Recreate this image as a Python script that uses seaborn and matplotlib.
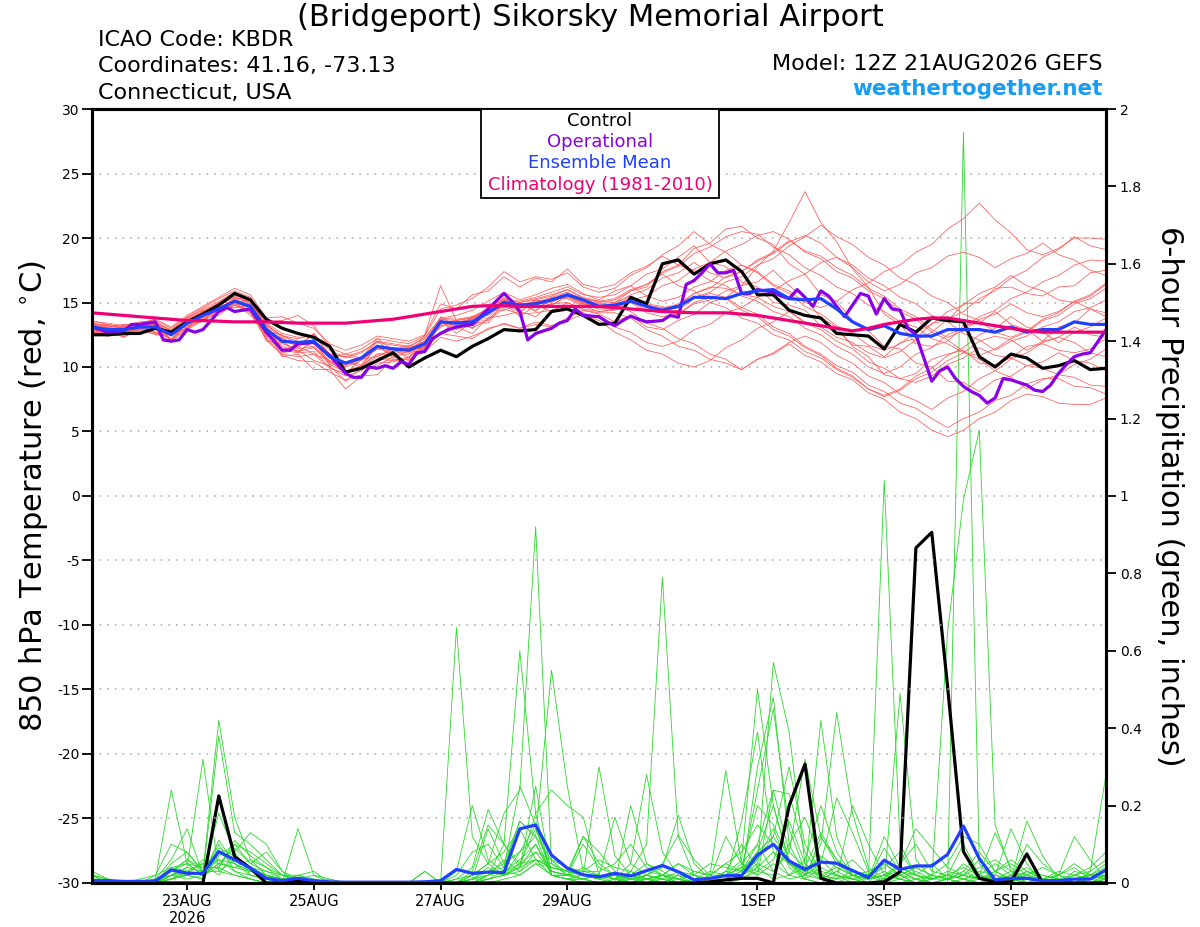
import pandas as pd
import matplotlib
matplotlib.use("Agg")
import matplotlib.pyplot as plt
import seaborn as sns
from matplotlib.patches import Rectangle

# --- run info ---
run_start = "2026-08-21 12:00"
tick_dates = ["2026-08-23", "2026-08-25", "2026-08-27", "2026-08-29",
              "2026-09-01", "2026-09-03", "2026-09-05"]
tick_labels = ["23AUG\n2026", "25AUG", "27AUG", "29AUG", "1SEP", "3SEP", "5SEP"]
temp_ticks = [-30, -25, -20, -15, -10, -5, 0, 5, 10, 15, 20, 25, 30]
precip_ticks = [0, 0.2, 0.4, 0.6, 0.8, 1, 1.2, 1.4, 1.6, 1.8, 2]
precip_tick_labels = ["0", "0.2", "0.4", "0.6", "0.8", "1", "1.2", "1.4", "1.6", "1.8", "2"]

# --- 850 hPa temperature (6-hourly, C) ---
control_temp = [12.5, 12.5, 12.6, 12.6, 13.0, 12.7, 13.5, 14.1, 14.8, 15.7,
                15.2, 13.7, 13.0, 12.6, 12.3, 11.6, 9.6, 9.9, 10.5, 11.1,
                10.0, 10.7, 11.3, 10.8, 11.6, 12.2, 12.9, 12.8, 12.9, 14.3,
                14.5, 14.0, 13.3, 13.4, 15.4, 14.9, 18.0, 18.3, 17.2, 18.0,
                18.3, 17.4, 15.6, 15.6, 14.4, 14.0, 13.8, 12.6, 12.5, 12.4,
                11.4, 13.3, 12.7, 13.8, 13.6, 13.5, 10.8, 10.0, 11.0, 10.7,
                9.9, 10.1, 10.5, 9.8, 9.9]
mean_temp = [13.1, 12.9, 12.9, 13.1, 13.1, 12.5, 13.4, 14.0, 14.5, 15.1,
             14.7, 12.9, 12.0, 11.9, 12.0, 10.8, 10.3, 10.7, 11.6, 11.4,
             11.3, 11.8, 13.5, 13.4, 13.5, 14.2, 15.0, 14.8, 14.9, 15.2,
             15.6, 15.2, 14.7, 14.8, 15.1, 14.7, 14.4, 14.7, 15.4, 15.4,
             15.3, 15.7, 15.9, 16.0, 15.3, 15.2, 15.3, 14.5, 13.5, 12.9,
             13.2, 12.6, 12.4, 12.4, 12.9, 12.9, 12.9, 12.7, 13.1, 12.7,
             12.9, 12.9, 13.5, 13.3, 13.3]
clim_temp = [14.2, 14.1, 14.0, 13.9, 13.8, 13.7, 13.6, 13.6, 13.55, 13.5,
             13.5, 13.5, 13.45, 13.4, 13.4, 13.4, 13.4, 13.5, 13.6, 13.7,
             13.9, 14.1, 14.3, 14.5, 14.7, 14.75, 14.75, 14.7, 14.7, 14.7,
             14.7, 14.7, 14.7, 14.6, 14.5, 14.4, 14.3, 14.25, 14.2, 14.2,
             14.2, 14.1, 14.0, 13.8, 13.6, 13.4, 13.2, 13.0, 12.8, 13.0,
             13.3, 13.5, 13.7, 13.8, 13.8, 13.6, 13.4, 13.2, 13.0, 12.8,
             12.7, 12.7, 12.7, 12.7, 12.7]
# operational run is 3-hourly
oper_temp = [13.1, 12.9, 12.7, 12.75, 12.8, 13.3, 13.3, 13.4, 13.5, 12.1,
             12.0, 12.1, 12.9, 12.7, 12.9, 13.6, 14.3, 14.6, 14.3, 14.4,
             14.5, 13.6, 12.7, 12.0, 11.3, 11.3, 11.8, 11.85, 11.9, 11.4,
             10.9, 10.2, 9.5, 9.2, 9.2, 10.0, 9.9, 10.1, 9.9, 10.4,
             10.2, 11.1, 11.2, 12.2, 12.6, 12.9, 13.1, 13.2, 13.3, 13.9,
             14.5, 15.1, 15.7, 15.1, 14.3, 12.1, 12.6, 12.8, 13.0, 13.4,
             13.6, 14.5, 14.0, 13.95, 13.9, 13.5, 13.2, 13.6, 13.95, 13.7,
             13.5, 13.55, 13.6, 14.0, 13.85, 16.4, 16.7, 17.3, 18.0, 17.3,
             17.3, 17.5, 15.7, 15.7, 16.0, 15.9, 15.8, 15.5, 15.3, 16.0,
             15.4, 14.7, 15.9, 15.5, 14.7, 13.9, 14.8, 15.7, 15.5, 14.1,
             15.3, 14.5, 14.4, 13.0, 12.5, 10.7, 8.9, 9.7, 10.0, 9.1,
             8.5, 8.1, 7.8, 7.2, 7.6, 9.1, 9.0, 8.8, 8.6, 8.2,
             8.1, 8.6, 9.5, 10.2, 10.8, 11.0, 11.1, 12.0, 12.9]

# ensemble members temperature
t01 = [13.4, 13.2, 13.0, 13.3, 13.5, 12.8, 13.7, 14.3, 14.9, 15.5, 15.0, 13.2, 12.4, 12.0, 11.5, 10.2, 9.6, 10.1, 11.0, 11.2,
       11.6, 12.3, 13.8, 14.0, 14.4, 15.1, 15.8, 15.2, 15.6, 16.1, 16.4, 15.7, 15.2, 15.9, 16.3, 17.2, 17.6, 18.5, 19.4, 18.1,
       17.8, 16.6, 16.2, 15.0, 14.8, 14.4, 13.2, 12.9, 11.7, 11.6, 10.8, 11.9, 12.2, 13.4, 13.6, 14.9, 15.0, 16.1, 16.2, 15.7,
       15.5, 16.2, 16.3, 17.3, 17.5]
t02 = [13.0, 12.4, 12.9, 12.6, 13.2, 12.0, 13.4, 13.5, 14.7, 14.6, 14.9, 12.0, 11.9, 11.1, 12.2, 10.1, 10.4, 10.0, 11.7, 10.7,
       11.3, 11.1, 13.6, 12.6, 13.5, 13.4, 15.0, 13.9, 14.8, 14.3, 15.0, 14.4, 14.1, 13.5, 14.0, 13.1, 12.9, 13.6, 14.1, 15.0,
       15.4, 16.3, 16.6, 17.5, 16.3, 15.4, 13.8, 13.1, 11.6, 10.8, 9.4, 9.1, 9.5, 10.6, 11.0, 11.3, 10.3, 10.2, 10.7, 11.6,
       11.8, 11.3, 11.1, 11.4, 12.2]
t03 = [12.8, 12.6, 12.9, 13.2, 13.0, 12.6, 13.5, 14.2, 14.8, 15.4, 14.9, 13.4, 12.6, 12.3, 12.4, 11.0, 10.8, 11.2, 11.9, 11.7,
       11.5, 12.0, 13.6, 13.3, 13.8, 14.6, 15.3, 15.0, 15.3, 15.6, 16.0, 15.3, 15.1, 15.0, 15.9, 16.2, 17.4, 17.9, 19.2, 19.6,
       20.7, 20.9, 20.0, 19.5, 18.0, 17.2, 15.6, 15.1, 13.6, 12.8, 11.6, 11.4, 10.3, 10.0, 8.9, 8.8, 8.1, 9.0, 9.3, 10.1,
       10.4, 11.1, 10.5, 10.3, 9.7]
t04 = [13.3, 13.0, 13.1, 13.0, 13.2, 12.7, 13.2, 13.9, 14.6, 15.2, 14.8, 12.9, 11.8, 11.4, 11.6, 10.5, 10.0, 10.5, 11.4, 11.5,
       11.2, 11.7, 13.3, 13.6, 13.9, 14.4, 15.1, 14.9, 15.0, 15.4, 15.8, 15.2, 14.9, 15.0, 15.5, 14.9, 14.7, 14.1, 14.9, 15.2,
       15.9, 16.3, 17.8, 19.0, 21.2, 23.6, 21.2, 19.7, 17.6, 16.2, 14.1, 13.3, 11.8, 11.6, 12.0, 13.2, 13.4, 14.3, 13.3, 12.9,
       12.0, 13.1, 13.4, 14.5, 13.9]
t05 = [12.6, 13.1, 12.3, 13.1, 12.7, 12.6, 13.0, 14.3, 14.2, 15.3, 14.2, 12.9, 10.8, 11.0, 9.8, 9.8, 8.3, 9.3, 9.4, 10.6,
       10.2, 11.7, 12.6, 13.6, 13.0, 14.4, 14.4, 14.9, 14.3, 15.4, 15.3, 14.7, 14.3, 14.4, 15.0, 14.2, 13.9, 14.1, 15.0, 15.4,
       15.3, 14.4, 13.9, 12.9, 12.4, 11.5, 10.9, 9.9, 9.3, 8.3, 7.7, 8.2, 9.1, 9.6, 10.5, 11.1, 12.0, 12.4, 12.1, 11.3,
       12.0, 12.3, 13.1, 12.5, 12.3]
t06 = [13.5, 13.4, 13.2, 13.5, 13.6, 13.0, 13.9, 14.6, 15.3, 15.9, 15.4, 13.5, 13.6, 14.0, 13.2, 11.5, 11.0, 11.4, 12.2, 12.0,
       11.8, 12.4, 14.5, 14.8, 15.3, 16.2, 17.4, 16.6, 17.0, 16.8, 17.3, 16.2, 15.8, 16.1, 17.1, 17.7, 18.7, 19.4, 20.5, 19.5,
       18.9, 17.9, 17.4, 16.4, 15.9, 15.0, 14.6, 15.1, 16.0, 16.5, 17.4, 17.9, 18.9, 19.5, 20.7, 21.5, 22.7, 21.4, 20.4, 19.1,
       18.7, 19.2, 20.0, 20.0, 19.9]
t07 = [12.6, 12.5, 12.4, 12.7, 12.6, 12.0, 12.9, 13.6, 14.2, 14.8, 14.3, 12.2, 11.0, 10.8, 11.0, 9.9, 9.5, 10.0, 10.8, 10.6,
       10.6, 11.2, 12.3, 12.0, 12.4, 12.9, 13.4, 13.0, 13.3, 13.1, 13.6, 14.1, 13.6, 12.7, 12.1, 11.3, 11.0, 10.3, 10.0, 10.5,
       11.5, 12.1, 13.0, 13.5, 14.3, 13.4, 12.9, 12.0, 11.4, 10.4, 9.9, 9.1, 8.8, 9.3, 10.2, 10.7, 11.5, 10.9, 10.7, 10.1,
       9.9, 9.4, 9.2, 8.6, 8.5]
t08 = [13.2, 13.1, 12.8, 13.1, 13.3, 12.6, 13.6, 14.3, 15.0, 15.7, 15.2, 13.0, 12.1, 11.9, 12.1, 10.9, 10.4, 10.8, 11.6, 11.5,
       11.4, 11.9, 13.5, 13.5, 13.7, 14.3, 15.0, 14.8, 15.0, 15.3, 15.7, 15.3, 15.0, 15.2, 15.9, 16.4, 17.3, 17.8, 18.8, 19.3,
       20.1, 20.5, 20.3, 19.3, 18.7, 17.7, 17.1, 16.2, 15.7, 14.8, 14.3, 13.5, 13.1, 12.2, 11.8, 11.1, 10.9, 11.4, 12.2, 12.7,
       13.6, 14.0, 14.9, 15.3, 16.1]
t09 = [13.3, 12.6, 13.3, 13.1, 13.5, 12.1, 13.5, 13.6, 14.6, 14.6, 14.8, 12.4, 12.3, 11.5, 12.6, 10.8, 11.0, 10.7, 12.2, 11.3,
       11.7, 11.3, 13.5, 12.9, 13.7, 13.6, 15.0, 14.2, 15.2, 14.8, 15.5, 14.9, 14.7, 14.8, 15.4, 14.8, 14.6, 14.8, 15.7, 16.1,
       17.0, 17.4, 18.2, 18.8, 19.7, 20.2, 19.6, 18.5, 17.7, 16.6, 15.9, 16.4, 17.3, 17.7, 18.6, 18.9, 18.5, 17.7, 18.4, 18.8,
       19.6, 18.7, 18.3, 17.5, 17.1]
t10 = [12.7, 12.6, 12.7, 12.9, 12.9, 12.1, 13.0, 13.7, 14.3, 14.9, 14.4, 12.3, 11.3, 11.1, 11.2, 10.0, 9.3, 9.7, 10.6, 10.5,
       10.8, 11.5, 12.6, 12.4, 12.2, 13.0, 13.3, 13.0, 13.5, 13.2, 13.8, 14.4, 14.2, 14.2, 13.8, 12.9, 12.4, 11.6, 11.3, 10.6,
       10.3, 9.8, 10.6, 11.1, 11.9, 12.4, 11.9, 10.9, 10.3, 9.3, 8.8, 7.9, 7.4, 6.7, 7.6, 8.1, 9.1, 9.7, 10.6, 11.1,
       11.9, 12.3, 11.9, 11.1, 10.8]
t11 = [13.4, 13.1, 13.3, 13.2, 13.4, 12.9, 13.8, 14.4, 14.9, 15.6, 15.1, 13.3, 12.4, 12.2, 12.5, 11.3, 10.7, 11.1, 12.0, 11.8,
       11.6, 12.2, 13.8, 13.7, 13.9, 14.5, 15.2, 15.1, 15.4, 15.8, 16.2, 15.6, 15.4, 15.6, 16.3, 15.5, 15.1, 15.4, 16.2, 16.6,
       17.5, 17.9, 17.3, 16.3, 15.7, 14.7, 14.1, 13.2, 12.6, 11.7, 11.3, 11.8, 12.7, 13.3, 14.3, 14.8, 15.7, 16.2, 17.1, 16.3,
       15.9, 15.2, 15.0, 15.5, 16.4]
t12 = [12.6, 13.0, 12.5, 13.3, 12.6, 12.8, 13.1, 14.4, 14.3, 15.4, 14.4, 13.1, 11.4, 11.6, 11.0, 10.5, 9.5, 10.6, 10.8, 11.4,
       10.7, 11.9, 13.1, 13.6, 13.0, 14.4, 14.6, 14.9, 14.4, 15.3, 15.4, 14.8, 14.5, 14.5, 15.1, 14.4, 14.2, 14.4, 15.3, 15.7,
       15.4, 14.6, 14.1, 13.1, 12.6, 11.6, 11.0, 10.1, 9.6, 8.6, 8.1, 7.2, 6.8, 6.0, 5.3, 6.0, 6.5, 7.4, 7.8, 8.7,
       9.1, 9.1, 8.5, 8.4, 7.9]
t13 = [13.6, 13.3, 13.1, 13.4, 13.7, 13.1, 14.0, 14.7, 15.4, 16.1, 15.6, 13.8, 13.9, 13.4, 13.0, 11.8, 11.3, 11.7, 12.4, 12.2,
       12.0, 12.5, 14.9, 14.5, 15.6, 15.9, 17.0, 16.2, 16.9, 16.6, 17.6, 16.4, 16.1, 16.4, 17.3, 17.8, 18.6, 17.9, 17.5, 16.7,
       16.3, 15.5, 15.1, 14.3, 13.9, 13.0, 12.5, 11.6, 11.0, 10.0, 9.5, 10.0, 11.0, 11.5, 12.5, 13.0, 13.9, 14.4, 15.3, 15.8,
       16.6, 17.1, 17.9, 18.3, 18.2]
t14 = [12.5, 12.4, 12.5, 12.8, 12.7, 12.2, 13.1, 13.8, 14.4, 14.8, 14.2, 12.1, 10.9, 10.5, 10.4, 9.6, 9.0, 9.4, 10.3, 10.4,
       10.7, 12.5, 16.3, 13.6, 13.0, 13.7, 14.5, 14.1, 14.2, 14.4, 14.8, 14.2, 13.8, 13.1, 12.7, 11.9, 11.6, 12.0, 12.9, 13.3,
       14.2, 14.6, 15.4, 15.9, 16.7, 17.2, 18.1, 18.5, 17.9, 16.9, 16.3, 15.4, 14.9, 14.0, 13.5, 12.6, 12.1, 11.3, 12.0, 12.4,
       13.1, 13.5, 14.3, 14.6, 15.2]
t15 = [13.4, 12.7, 13.2, 12.9, 13.5, 12.4, 13.8, 13.8, 15.0, 15.0, 15.2, 12.8, 12.5, 11.7, 12.6, 10.9, 10.8, 10.6, 12.0, 11.1,
       11.5, 11.5, 13.9, 13.1, 13.9, 14.0, 15.4, 14.5, 15.2, 15.0, 15.6, 15.1, 14.8, 14.9, 15.6, 16.0, 16.9, 17.3, 18.1, 17.3,
       16.9, 17.4, 18.3, 18.9, 19.8, 19.0, 18.6, 17.7, 17.1, 16.1, 15.5, 14.5, 13.9, 12.9, 12.3, 12.8, 13.7, 14.1, 14.9, 14.2,
       13.9, 14.3, 15.1, 14.5, 14.2]
t16 = [12.8, 12.9, 12.7, 13.0, 13.1, 12.4, 13.3, 14.0, 14.6, 15.2, 14.8, 12.8, 11.6, 11.2, 11.5, 10.4, 9.7, 10.1, 11.0, 10.9,
       11.0, 11.6, 13.2, 13.5, 13.6, 14.2, 14.9, 14.6, 14.9, 15.2, 15.6, 15.0, 14.7, 14.8, 14.3, 13.4, 13.0, 12.2, 11.8, 11.0,
       10.6, 9.8, 10.6, 11.0, 11.8, 10.9, 10.4, 9.5, 9.0, 8.0, 7.5, 6.5, 6.0, 5.1, 4.6, 5.1, 6.0, 6.5, 7.4, 7.9,
       7.7, 7.2, 7.1, 7.1, 7.6]
t17 = [13.2, 13.3, 13.0, 13.2, 13.4, 12.8, 13.8, 14.5, 15.1, 15.8, 15.3, 13.3, 12.2, 11.8, 12.0, 10.8, 10.2, 10.6, 11.5, 11.4,
       11.4, 12.0, 13.7, 13.6, 13.8, 14.4, 15.2, 15.0, 15.2, 15.5, 16.0, 15.4, 15.1, 15.3, 16.0, 16.4, 17.2, 16.3, 15.9, 15.0,
       14.6, 13.8, 13.4, 12.5, 12.1, 11.2, 10.7, 9.8, 9.2, 8.3, 7.8, 8.3, 9.3, 9.9, 10.9, 11.5, 12.5, 13.0, 13.9, 13.1,
       12.7, 11.9, 12.7, 13.1, 13.8]
t18 = [12.4, 12.8, 12.3, 13.0, 12.5, 12.6, 12.9, 14.1, 14.0, 15.0, 14.0, 12.7, 11.1, 11.3, 10.5, 10.1, 8.9, 9.9, 10.1, 10.8,
       10.5, 11.7, 12.7, 13.1, 12.6, 13.8, 14.0, 14.3, 13.9, 14.9, 15.0, 14.5, 14.3, 14.5, 15.2, 15.5, 16.3, 16.7, 17.6, 18.1,
       19.0, 19.5, 20.2, 20.5, 19.9, 18.9, 18.4, 17.4, 16.9, 15.9, 15.3, 14.3, 13.7, 12.7, 12.1, 11.2, 10.6, 9.7, 9.2, 8.3,
       9.0, 9.4, 10.2, 10.6, 11.4]
t19 = [13.3, 13.2, 13.1, 13.3, 13.3, 12.7, 13.6, 14.2, 14.8, 15.4, 15.0, 13.1, 12.0, 11.7, 11.9, 10.7, 10.1, 10.6, 11.4, 11.2,
       11.1, 11.8, 13.5, 13.2, 13.5, 14.2, 15.0, 14.7, 14.9, 15.1, 15.5, 15.0, 14.6, 14.6, 15.3, 14.6, 14.4, 14.6, 15.4, 15.8,
       16.6, 17.0, 17.9, 18.4, 19.4, 20.1, 21.0, 20.1, 19.5, 18.5, 17.9, 16.9, 16.4, 15.5, 15.0, 14.1, 13.6, 12.7, 12.3, 12.8,
       13.7, 14.2, 15.1, 15.6, 16.5]
t20 = [13.2, 12.5, 13.1, 12.8, 13.3, 12.1, 13.6, 13.6, 14.8, 14.8, 14.9, 12.4, 12.0, 11.2, 12.0, 10.3, 10.4, 10.2, 11.6, 10.9,
       11.5, 11.4, 13.7, 13.0, 13.8, 13.8, 15.2, 14.3, 15.1, 14.8, 15.5, 14.9, 14.6, 14.7, 15.3, 14.7, 14.5, 14.9, 15.7, 16.2,
       16.1, 15.6, 15.4, 14.7, 14.3, 13.5, 13.1, 12.3, 11.9, 11.1, 10.7, 11.2, 12.1, 12.7, 13.7, 14.3, 15.3, 15.9, 16.9, 17.5,
       18.5, 19.1, 20.1, 19.4, 19.1]

# --- 6-hour precipitation (inches) ---
control_precip = [0, 0, 0, 0, 0, 0, 0, 0, 0.225, 0.068, 0.038, 0, 0,
                  0.005, 0, 0, 0, 0, 0, 0, 0, 0, 0, 0, 0, 0,
                  0, 0, 0, 0, 0, 0, 0, 0, 0, 0, 0, 0, 0,
                  0.003, 0.008, 0.012, 0.012, 0, 0.2, 0.307, 0.012, 0, 0, 0, 0.003, 0.029,
                  0.866, 0.906, 0.507, 0.081, 0.012, 0.003, 0.003, 0.075, 0, 0, 0, 0, 0]
mean_precip = [0.006, 0.006, 0.004, 0.004, 0.005, 0.034, 0.025, 0.025, 0.081, 0.06, 0.038, 0.012, 0.006,
               0.012, 0.006, 0.003, 0.002, 0.002, 0.002, 0.002, 0.002, 0.003, 0.006, 0.035, 0.025, 0.028,
               0.027, 0.14, 0.15, 0.072, 0.038, 0.021, 0.016, 0.025, 0.018, 0.032, 0.045, 0.029, 0.008,
               0.012, 0.019, 0.019, 0.072, 0.1, 0.057, 0.035, 0.054, 0.051, 0.032, 0.014, 0.059, 0.035,
               0.044, 0.044, 0.074, 0.147, 0.063, 0.008, 0.012, 0.012, 0.006, 0.006, 0.01, 0.01, 0.034]

p01 = [0, 0, 0, 0, 0.01, 0.24, 0.05, 0.02, 0.10, 0.03, 0.01, 0, 0, 0, 0, 0, 0, 0, 0, 0, 0, 0, 0, 0.66, 0.12, 0.05,
       0.02, 0.04, 0.25, 0.02, 0.01, 0, 0, 0, 0.03, 0.10, 0.79, 0.12, 0.02, 0, 0.01, 0.03, 0.08, 0.20, 0.06, 0.01, 0, 0.02, 0, 0, 0.05, 0.02,
       0, 0, 0, 1.94, 0.05, 0, 0, 0.03, 0.01, 0, 0, 0, 0.02]
p02 = [0.03, 0.01, 0, 0, 0, 0.02, 0.04, 0.32, 0.03, 0.02, 0.01, 0, 0, 0, 0, 0, 0, 0, 0, 0, 0, 0, 0, 0.01, 0.04, 0.19,
       0.10, 0.60, 0.18, 0.02, 0.01, 0, 0, 0, 0.20, 0.05, 0.02, 0, 0, 0, 0.02, 0.06, 0.50, 0.20, 0.05, 0.01, 0, 0, 0.02, 0.01, 1.04, 0.10,
       0.02, 0, 0.01, 0.05, 0.02, 0, 0.01, 0, 0, 0, 0.02, 0.01, 0]
p03 = [0.01, 0, 0, 0, 0.02, 0.10, 0.08, 0.03, 0.42, 0.17, 0.06, 0.02, 0, 0.14, 0.02, 0, 0, 0, 0, 0, 0, 0, 0, 0, 0.02, 0.05,
       0.18, 0.24, 0.92, 0.05, 0.02, 0.01, 0, 0.01, 0.03, 0.01, 0, 0.02, 0.01, 0, 0, 0.01, 0.04, 0.57, 0.39, 0.05, 0.01, 0.03, 0.01, 0, 0, 0.49,
       0.06, 0.01, 0.02, 0.10, 0.02, 0.13, 0.04, 0, 0, 0.01, 0, 0, 0]
p04 = [0, 0, 0, 0, 0.01, 0.06, 0.14, 0.02, 0.38, 0.13, 0.10, 0.06, 0.02, 0.02, 0.01, 0, 0, 0, 0, 0, 0, 0.03, 0, 0, 0.01, 0.14,
       0.05, 0.16, 0.12, 0.55, 0.25, 0.03, 0.02, 0.01, 0, 0.01, 0.02, 0, 0.03, 0.02, 0.29, 0.05, 0.10, 0.03, 0.01, 0.02, 0.42, 0.12, 0.02, 0, 0, 0.02,
       0, 0.01, 0.65, 0.99, 1.17, 0.15, 0.03, 0, 0, 0, 0.01, 0.02, 0.04]
p05 = [0.02, 0, 0, 0, 0, 0.05, 0.08, 0.03, 0.18, 0.08, 0.13, 0.10, 0.03, 0, 0, 0, 0, 0, 0, 0, 0, 0, 0, 0.03, 0.20, 0.06,
       0.03, 0.04, 0.18, 0.24, 0.20, 0.17, 0.02, 0.01, 0.01, 0.02, 0.04, 0.175, 0.05, 0.01, 0.02, 0.01, 0.30, 0.48, 0.10, 0.02, 0.05, 0.22, 0.13, 0.03, 0, 0,
       0.01, 0, 0, 0.01, 0.03, 0.02, 0.14, 0.05, 0, 0.02, 0.12, 0.06, 0.01]
p06 = [0, 0, 0, 0.01, 0.02, 0.04, 0.05, 0.02, 0.11, 0.05, 0.03, 0.02, 0.01, 0.02, 0.03, 0, 0, 0, 0, 0, 0, 0, 0, 0, 0, 0.02,
       0.10, 0.04, 0.06, 0.02, 0.01, 0.01, 0.02, 0.17, 0.05, 0.28, 0.08, 0.02, 0, 0, 0.01, 0.05, 0.02, 0.24, 0.23, 0.08, 0.02, 0.01, 0.20, 0.10, 0.02, 0.01,
       0, 0.02, 0.01, 0.02, 0.06, 0, 0.01, 0.16, 0.07, 0.01, 0, 0.03, 0.28]
p07 = [0, 0, 0, 0, 0, 0.03, 0.02, 0.01, 0.08, 0.06, 0.04, 0.03, 0.02, 0.01, 0, 0, 0, 0, 0, 0, 0, 0, 0, 0.01, 0.02, 0.03,
       0.04, 0.25, 0.15, 0.03, 0.02, 0.01, 0, 0, 0.01, 0.02, 0.05, 0.124, 0.06, 0.02, 0.05, 0.08, 0.15, 0.10, 0.05, 0.03, 0.02, 0.04, 0.02, 0.01, 0.09, 0.03,
       0.01, 0, 0, 0, 0.02, 0.05, 0.02, 0, 0.01, 0, 0.03, 0.02, 0.05]
p08 = [0.01, 0, 0, 0, 0.01, 0.02, 0.03, 0.05, 0.06, 0.05, 0.02, 0.01, 0, 0.01, 0, 0, 0, 0, 0, 0, 0, 0.03, 0, 0, 0.01, 0.04,
       0.02, 0.04, 0.10, 0.03, 0.02, 0.02, 0.30, 0.07, 0.02, 0, 0.01, 0.03, 0.02, 0.01, 0, 0.02, 0.06, 0.12, 0.05, 0.02, 0.10, 0.44, 0.18, 0.04, 0.01, 0.02,
       0.04, 0.02, 0.01, 0, 0, 0.01, 0.03, 0.02, 0, 0, 0.01, 0.01, 0.02]
p09 = [0.02, 0.01, 0, 0, 0.01, 0.03, 0.06, 0.04, 0.04, 0.11, 0.07, 0.04, 0.02, 0, 0, 0, 0, 0, 0, 0, 0, 0, 0, 0, 0.01, 0.02,
       0.03, 0.02, 0.05, 0.02, 0.01, 0.01, 0.02, 0.01, 0.05, 0.02, 0.01, 0, 0.01, 0.03, 0.02, 0.04, 0.02, 0.05, 0.02, 0.01, 0.12, 0.06, 0.03, 0.02, 0.04, 0.08,
       0.02, 0.05, 0.01, 0.03, 0.01, 0.02, 0.01, 0, 0.02, 0.01, 0, 0.02, 0.01]
p10 = [0, 0, 0, 0, 0, 0.01, 0.02, 0.06, 0.05, 0.09, 0.05, 0.08, 0.03, 0.01, 0.02, 0.01, 0, 0, 0, 0, 0, 0, 0, 0, 0.03, 0.15,
       0.10, 0.05, 0.06, 0.05, 0.03, 0.02, 0.01, 0.02, 0, 0.01, 0, 0, 0.01, 0.01, 0.03, 0.10, 0.04, 0.01, 0.02, 0.06, 0.20, 0.08, 0.02, 0.01, 0.02, 0.05,
       0.10, 0.03, 0.02, 0.01, 0, 0, 0.02, 0.04, 0.01, 0, 0, 0.01, 0.01]
p11 = [0, 0, 0, 0, 0.01, 0.01, 0.03, 0.02, 0.05, 0.04, 0.03, 0.02, 0.01, 0, 0, 0, 0, 0, 0, 0, 0, 0, 0, 0, 0, 0.01,
       0.02, 0.03, 0.06, 0.04, 0.03, 0.02, 0.01, 0.02, 0.01, 0.01, 0.02, 0.01, 0, 0, 0.01, 0.16, 0.39, 0.08, 0.02, 0.04, 0.02, 0.01, 0.03, 0.02, 0, 0.01,
       0, 0, 0.01, 0.03, 0.08, 0.03, 0.01, 0.10, 0.05, 0.02, 0, 0, 0.01]
p12 = [0.01, 0, 0, 0, 0, 0.04, 0.03, 0.02, 0.09, 0.07, 0.04, 0.02, 0, 0, 0, 0, 0, 0, 0, 0, 0, 0, 0, 0, 0.02, 0.03,
       0.05, 0.08, 0.12, 0.06, 0.04, 0.03, 0.03, 0.05, 0.10, 0.04, 0.02, 0.01, 0, 0.02, 0.05, 0.03, 0.24, 0.45, 0.14, 0.03, 0.01, 0.03, 0.06, 0.02, 0.01, 0.05,
       0.14, 0.09, 0.04, 0.02, 0.01, 0.03, 0.05, 0.02, 0.01, 0, 0.02, 0.04, 0.08]
p13 = [0, 0, 0, 0, 0, 0.02, 0.03, 0.05, 0.02, 0.08, 0.02, 0.01, 0, 0.02, 0, 0, 0, 0, 0, 0, 0, 0, 0, 0.02, 0.08, 0.10,
       0.04, 0.16, 0.12, 0.02, 0.01, 0.02, 0.01, 0, 0.02, 0.05, 0.03, 0.01, 0, 0.01, 0.12, 0.05, 0.03, 0.02, 0.10, 0.17, 0.06, 0.02, 0.01, 0.01, 0.12, 0.04,
       0.02, 0.01, 0.03, 0.02, 0.01, 0, 0.01, 0.02, 0.01, 0.02, 0.05, 0.02, 0.01]
p14 = [0.02, 0, 0, 0, 0, 0.01, 0.02, 0.03, 0.06, 0.03, 0.02, 0.01, 0, 0, 0, 0, 0, 0, 0, 0, 0, 0, 0, 0, 0, 0.01,
       0.02, 0.05, 0.08, 0.06, 0.02, 0.01, 0.02, 0.01, 0.02, 0.01, 0.01, 0, 0, 0, 0, 0.02, 0.05, 0.03, 0.08, 0.32, 0.12, 0.05, 0.02, 0.01, 0.02, 0.03,
       0.01, 0.02, 0.05, 0.12, 0.10, 0.03, 0.01, 0, 0, 0.01, 0, 0.01, 0.02]
p15 = [0, 0, 0, 0, 0.01, 0.03, 0.05, 0.04, 0.04, 0.10, 0.05, 0.03, 0.01, 0, 0.01, 0, 0, 0, 0, 0, 0, 0, 0, 0, 0.01, 0.02,
       0.06, 0.03, 0.08, 0.03, 0.02, 0.10, 0.04, 0.02, 0.01, 0.03, 0.02, 0.01, 0.02, 0.05, 0.04, 0.03, 0.08, 0.12, 0.30, 0.10, 0.03, 0.02, 0.01, 0.02, 0.06, 0.03,
       0.02, 0.01, 0.02, 0.04, 0.02, 0.01, 0, 0.02, 0.04, 0.02, 0.01, 0, 0.01]
p16 = [0.01, 0.01, 0, 0, 0, 0.02, 0.01, 0.02, 0.04, 0.02, 0.01, 0, 0, 0, 0, 0, 0, 0, 0, 0, 0, 0, 0, 0, 0, 0,
       0.01, 0.02, 0.05, 0.04, 0.03, 0.12, 0.05, 0.02, 0.01, 0, 0.02, 0.05, 0.03, 0.02, 0.02, 0.04, 0.20, 0.15, 0.06, 0.02, 0.01, 0.05, 0.03, 0.01, 0.02, 0.01,
       0.03, 0.01, 0.02, 0.01, 0, 0.02, 0.01, 0.03, 0.02, 0.01, 0.02, 0.03, 0.06]
p17 = [0, 0, 0, 0, 0, 0.02, 0.02, 0.01, 0.07, 0.10, 0.08, 0.05, 0.02, 0.01, 0, 0, 0, 0, 0, 0, 0, 0, 0, 0, 0.02, 0.05,
       0.08, 0.14, 0.06, 0.04, 0.03, 0.02, 0.02, 0.01, 0, 0.02, 0.01, 0, 0, 0, 0.03, 0.02, 0.06, 0.14, 0.04, 0.01, 0.04, 0.02, 0.01, 0, 0.01, 0.02,
       0.04, 0.02, 0.01, 0, 0.01, 0.01, 0.02, 0.01, 0, 0, 0.01, 0.02, 0.03]
p18 = [0.01, 0, 0, 0, 0, 0.01, 0.03, 0.02, 0.05, 0.04, 0.06, 0.04, 0.01, 0, 0, 0, 0, 0, 0, 0, 0, 0, 0, 0, 0.01, 0.01,
       0.03, 0.06, 0.10, 0.02, 0.02, 0.03, 0.06, 0.04, 0.03, 0.01, 0.02, 0.02, 0.01, 0.01, 0.02, 0.01, 0.03, 0.06, 0.16, 0.05, 0.02, 0.01, 0.02, 0.03, 0.05, 0.02,
       0.01, 0, 0.01, 0.02, 0.04, 0.06, 0.03, 0.01, 0, 0, 0.01, 0.02, 0.02]
p19 = [0, 0, 0, 0, 0.01, 0.02, 0.04, 0.03, 0.03, 0.06, 0.04, 0.02, 0.01, 0, 0, 0, 0, 0, 0, 0, 0, 0, 0, 0, 0, 0.02,
       0.03, 0.05, 0.14, 0.03, 0.02, 0.04, 0.02, 0, 0.01, 0.02, 0.01, 0.01, 0, 0, 0.01, 0.03, 0.10, 0.24, 0.08, 0.04, 0.13, 0.06, 0.02, 0.01, 0.03, 0.01,
       0, 0.01, 0.02, 0.01, 0.02, 0.01, 0.01, 0, 0.01, 0.03, 0.02, 0.01, 0.02]
p20 = [0.02, 0.01, 0, 0, 0, 0.03, 0.06, 0.03, 0.08, 0.05, 0.03, 0.02, 0.01, 0, 0, 0.01, 0, 0, 0, 0, 0, 0, 0, 0, 0.01, 0.03,
       0.02, 0.08, 0.15, 0.02, 0.02, 0.12, 0.08, 0.03, 0.01, 0.01, 0.02, 0.05, 0.02, 0.01, 0.02, 0.02, 0.04, 0.08, 0.05, 0.03, 0.07, 0.04, 0.02, 0.01, 0.02, 0.04,
       0.02, 0.01, 0.01, 0.02, 0.01, 0.03, 0.06, 0.03, 0.01, 0.02, 0.04, 0.01, 0.03]

temp_members = [t01, t02, t03, t04, t05, t06, t07, t08, t09, t10,
                t11, t12, t13, t14, t15, t16, t17, t18, t19, t20]
precip_members = [p01, p02, p03, p04, p05, p06, p07, p08, p09, p10,
                  p11, p12, p13, p14, p15, p16, p17, p18, p19, p20]

times6 = pd.date_range(run_start, periods=65, freq="6h")
times3 = pd.date_range(run_start, periods=129, freq="3h")


def to_long(members, times):
    frames = []
    for k, vals in enumerate(members):
        frames.append(pd.DataFrame({"time": times, "value": vals, "member": k}))
    return pd.concat(frames, ignore_index=True)


temp_long = to_long(temp_members, times6)
precip_long = to_long(precip_members, times6)

# colours
c_red = "#ff5a5a"
c_green = "#2ad82a"
c_oper = "#8a00e6"
c_mean = "#2040ff"
c_clim = "#ee0077"

sns.set_theme(style="white")
plt.rcParams["font.family"] = ["DejaVu Sans"]
plt.rcParams["mathtext.default"] = "regular"
plt.rcParams["text.color"] = "black"

fig = plt.figure(figsize=(12, 9.27), dpi=100)
ax = fig.add_axes([0.0767, 0.0475, 0.845, 0.8349])
axp = ax.twinx()

# precipitation (right axis)
sns.lineplot(data=precip_long, x="time", y="value", units="member", estimator=None,
             color=c_green, lw=0.6, ax=axp)
sns.lineplot(x=times6, y=control_precip, color="black", lw=2.3, ax=axp)
sns.lineplot(x=times6, y=mean_precip, color=c_mean, lw=2.3, ax=axp)

# temperature (left axis)
sns.lineplot(data=temp_long, x="time", y="value", units="member", estimator=None,
             color=c_red, lw=0.55, ax=ax)
sns.lineplot(x=times6, y=control_temp, color="black", lw=2.3, ax=ax)
sns.lineplot(x=times3, y=oper_temp, color=c_oper, lw=2.3, ax=ax)
sns.lineplot(x=times6, y=mean_temp, color=c_mean, lw=2.3, ax=ax)
sns.lineplot(x=times6, y=clim_temp, color=c_clim, lw=2.3, ax=ax)

ax.set_zorder(axp.get_zorder() + 1)
ax.patch.set_visible(False)

ax.set_xlim(times6[0], times6[-1])
ax.set_ylim(-30, 30)
axp.set_ylim(0, 2)

ax.set_yticks(temp_ticks)
ax.set_yticklabels([str(v) for v in temp_ticks])
axp.set_yticks(precip_ticks)
axp.set_yticklabels(precip_tick_labels)
ax.set_xticks(pd.to_datetime(tick_dates))
ax.set_xticklabels(tick_labels)

ax.grid(axis="y", color="#a8a8a8", linestyle=(0, (1, 4)), lw=1.1)
ax.grid(axis="x", visible=False)
axp.grid(False)

ax.tick_params(axis="y", left=True, direction="out", length=7, width=1.3,
               labelsize=10, pad=2, colors="black")
ax.tick_params(axis="x", bottom=True, direction="out", length=5, width=1.3,
               labelsize=10.5, pad=3, colors="black")
axp.tick_params(axis="y", right=True, direction="out", length=7, width=1.3,
                labelsize=10, pad=3, colors="black")

for a in (ax, axp):
    for sp in a.spines.values():
        sp.set_linewidth(2.2)
        sp.set_color("black")

ax.set_xlabel("")
ax.set_ylabel("850 hPa Temperature (red, $^{\\circ}$C)", fontsize=22, color="black")
ax.yaxis.set_label_coords(-0.058, 0.5)
ax.yaxis.label.set_va("center")
axp.set_ylabel("6-hour Precipitation (green, inches)", fontsize=22, color="black",
               rotation=270)
axp.yaxis.set_label_coords(1.063, 0.5)
axp.yaxis.label.set_va("center")
axp.yaxis.label.set_ha("center")

# legend box
ax.add_patch(Rectangle((0.3836, 0.885), 0.2347, 0.115, transform=ax.transAxes,
                       facecolor="white", edgecolor="black", lw=1.3, zorder=10,
                       clip_on=False))
legend_items = [("Control", "black", 0.9845), ("Operational", c_oper, 0.957),
                ("Ensemble Mean", c_mean, 0.930), ("Climatology (1981-2010)", c_clim, 0.902)]
for label, col, yy in legend_items:
    ax.text(0.501, yy, label, color=col, fontsize=13, ha="center", va="center",
            transform=ax.transAxes, zorder=11)

# header
fig.text(0.4917, 0.9806, "(Bridgeport) Sikorsky Memorial Airport", fontsize=22,
         ha="center", va="center", color="black")
fig.text(0.0817, 0.9568, "ICAO Code: KBDR", fontsize=16, ha="left", va="center", color="black")
fig.text(0.0817, 0.9288, "Coordinates: 41.16, -73.13", fontsize=16, ha="left", va="center",
         color="black")
fig.text(0.0817, 0.8997, "Connecticut, USA", fontsize=16, ha="left", va="center", color="black")
fig.text(0.919, 0.931, "Model: 12Z 21AUG2026 GEFS", fontsize=16, ha="right", va="center",
         color="black")
fig.text(0.919, 0.904, "weathertogether.net", fontsize=15.5, fontweight="bold",
         color="#1a9cf0", ha="right", va="center")

fig.savefig("out.png", dpi=100, facecolor="white")
